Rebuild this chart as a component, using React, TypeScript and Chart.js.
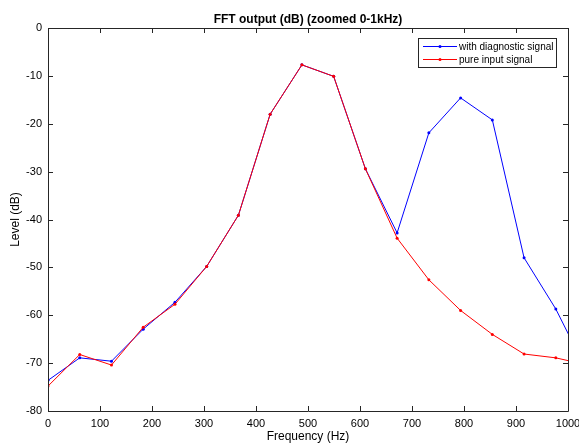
import React, { useEffect, useRef } from "react";
import { Chart, registerables } from "chart.js";

Chart.register(...registerables);

const freqHz = [0, 61.04, 122.07, 183.11, 244.14, 305.18, 366.21, 427.25, 488.28, 549.32, 610.35, 671.39, 732.42, 793.46, 854.49, 915.53, 976.56, 1037.6];
const withDiagnostic = [-73.6, -68.9, -69.6, -62.9, -57.3, -49.8, -39.1, -18.0, -7.7, -10.1, -29.4, -42.8, -21.9, -14.6, -19.2, -48.0, -58.7, -71.9];
const pureInput = [-74.8, -68.2, -70.4, -62.5, -57.7, -49.8, -39.1, -18.0, -7.7, -10.1, -29.4, -43.9, -52.6, -59.0, -64.0, -68.1, -68.9, -70.4];
const seriesNames = ["with diagnostic signal", "pure input signal"];
const seriesColors = ["#0000ff", "#ff0000"];
const chartTitle = "FFT output (dB) (zoomed 0-1kHz)";
const xTitle = "Frequency (Hz)";
const yTitle = "Level (dB)";

const FONT = "'Liberation Sans', Arial, sans-serif";
const AXIS_COLOR = "#262626";

const decorPlugin = {
  id: "matlabDecor",
  afterDraw(chart: any) {
    const { ctx, chartArea: a, scales } = chart;
    const xs = scales.x;
    const ys = scales.y;
    ctx.save();
    // box
    ctx.strokeStyle = AXIS_COLOR;
    ctx.lineWidth = 1;
    ctx.beginPath();
    ctx.rect(Math.round(a.left) + 0.5, Math.round(a.top) + 0.5, Math.round(a.right - a.left), Math.round(a.bottom - a.top));
    ctx.stroke();
    // ticks
    const tl = 5;
    ctx.beginPath();
    xs.ticks.forEach((t: any) => {
      const px = Math.round(xs.getPixelForValue(t.value)) + 0.5;
      ctx.moveTo(px, a.bottom);
      ctx.lineTo(px, a.bottom - tl);
      ctx.moveTo(px, a.top);
      ctx.lineTo(px, a.top + tl);
    });
    ys.ticks.forEach((t: any) => {
      const py = Math.round(ys.getPixelForValue(t.value)) + 0.5;
      ctx.moveTo(a.left, py);
      ctx.lineTo(a.left + tl, py);
      ctx.moveTo(a.right, py);
      ctx.lineTo(a.right - tl, py);
    });
    ctx.stroke();
    // titles
    ctx.fillStyle = "#000";
    ctx.textAlign = "center";
    ctx.textBaseline = "middle";
    const cx = (a.left + a.right) / 2;
    ctx.font = "bold 12px " + FONT;
    ctx.fillText(chartTitle, cx, 20);
    ctx.font = "12px " + FONT;
    ctx.fillText(xTitle, cx, 437);
    ctx.save();
    ctx.translate(16, (a.top + a.bottom) / 2);
    ctx.rotate(-Math.PI / 2);
    ctx.fillText(yTitle, 0, 0);
    ctx.restore();
    // legend
    const lx = 418.5, ly = 38.5, lw = 138, lh = 29;
    ctx.fillStyle = "#fff";
    ctx.fillRect(lx, ly, lw, lh);
    ctx.strokeStyle = AXIS_COLOR;
    ctx.strokeRect(lx, ly, lw, lh);
    ctx.font = "10px " + FONT;
    ctx.textAlign = "left";
    seriesNames.forEach((name, i) => {
      const y = 46 + i * 13;
      ctx.strokeStyle = seriesColors[i];
      ctx.beginPath();
      ctx.moveTo(423, y + 0.5);
      ctx.lineTo(457, y + 0.5);
      ctx.stroke();
      ctx.fillStyle = seriesColors[i];
      ctx.beginPath();
      ctx.arc(440, y + 0.5, 1.5, 0, Math.PI * 2);
      ctx.fill();
      ctx.fillStyle = "#000";
      ctx.fillText(name, 459, y + 1);
    });
    ctx.restore();
  },
};

export default function App() {
  const ref = useRef<HTMLCanvasElement | null>(null);
  useEffect(() => {
    if (!ref.current) return;
    const mk = (vals: number[]) => freqHz.map((f, i) => ({ x: f, y: vals[i] }));
    const chart = new Chart(ref.current, {
      type: "line",
      data: {
        datasets: [
          {
            label: seriesNames[0],
            data: mk(withDiagnostic),
            borderColor: seriesColors[0],
            backgroundColor: seriesColors[0],
            borderWidth: 1,
            pointRadius: 1.5,
            pointBorderWidth: 0,
            pointBackgroundColor: seriesColors[0],
            tension: 0,
            order: 2,
          },
          {
            label: seriesNames[1],
            data: mk(pureInput),
            borderColor: seriesColors[1],
            backgroundColor: seriesColors[1],
            borderWidth: 1,
            pointRadius: 1.5,
            pointBorderWidth: 0,
            pointBackgroundColor: seriesColors[1],
            tension: 0,
            order: 1,
          },
        ],
      },
      options: {
        animation: false,
        responsive: false,
        devicePixelRatio: 1,
        layout: { padding: { left: 0, top: 28, right: 11, bottom: 0 } },
        plugins: { legend: { display: false }, title: { display: false }, tooltip: { enabled: false } },
        events: [],
        scales: {
          x: {
            type: "linear",
            min: 0,
            max: 1000,
            grid: { display: false, drawTicks: false },
            border: { display: false },
            ticks: {
              stepSize: 100,
              color: "#000",
              font: { family: FONT, size: 11 },
              padding: 6,
              maxRotation: 0,
              callback: (v: any) => String(v),
            },
            afterFit: (s: any) => {
              s.height = 34;
              s.paddingLeft = 0;
              s.paddingRight = 0;
            },
          },
          y: {
            type: "linear",
            min: -80,
            max: 0,
            grid: { display: false, drawTicks: false },
            border: { display: false },
            ticks: { stepSize: 10, color: "#000", font: { family: FONT, size: 11 }, padding: 6, callback: (v: any) => String(v) },
            afterFit: (s: any) => {
              s.width = 48;
              s.paddingTop = 0;
              s.paddingBottom = 0;
            },
          },
        },
      },
      plugins: [decorPlugin],
    });
    return () => chart.destroy();
  }, []);
  return (
    <div style={{ position: "fixed", left: 0, top: 0, width: 579, height: 445, background: "#fff" }}>
      <canvas ref={ref} width={579} height={445} style={{ display: "block" }} />
    </div>
  );
}
